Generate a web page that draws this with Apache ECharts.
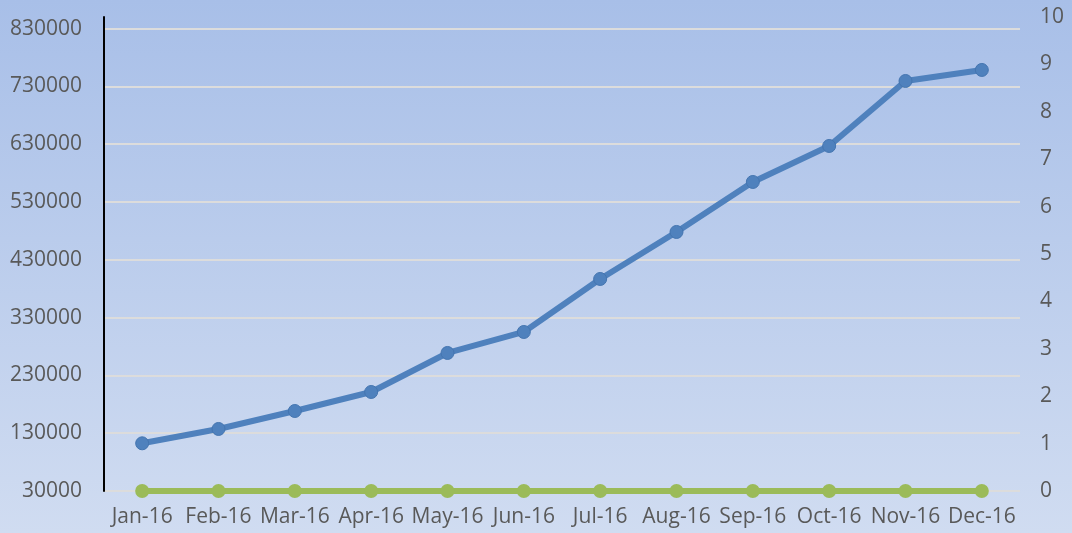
<!DOCTYPE html>
<html>
<head>
<meta charset="utf-8">
<script src="https://cdn.jsdelivr.net/npm/echarts@6/dist/echarts.min.js"></script>
<style>
html,body{margin:0;padding:0;}
#c{width:1072px;height:533px;}
</style>
</head>
<body>
<div id="c"></div>
<script>
const categories = ['Jan-16','Feb-16','Mar-16','Apr-16','May-16','Jun-16','Jul-16','Aug-16','Sep-16','Oct-16','Nov-16','Dec-16'];
const blueValues = [112500,137300,168400,201300,268800,305100,396800,478100,564600,626900,739300,758400];
const greenValues = [0,0,0,0,0,0,0,0,0,0,0,0];

const chart = echarts.init(document.getElementById('c'));
const font = 'Open Sans';
chart.setOption({
  backgroundColor: new echarts.graphic.LinearGradient(0,0,0,1,[
    {offset:0,color:'#a8bfe8'},
    {offset:1,color:'#d0dcf1'}
  ]),
  animation:false,
  grid:{left:104,right:52,top:17,bottom:42},
  xAxis:{
    type:'category',
    data:categories,
    boundaryGap:true,
    axisLine:{show:false},
    axisTick:{show:false},
    axisLabel:{interval:0,color:'#595959',fontFamily:font,fontSize:21,margin:16}
  },
  yAxis:[{
    type:'value',
    min:30000,max:850000,interval:100000,
    axisLine:{show:true,lineStyle:{color:'#000',width:2}},
    axisTick:{show:false},
    axisLabel:{showMaxLabel:false,color:'#595959',fontFamily:font,fontSize:21,margin:22,formatter:function(v){return String(v);}},
    splitLine:{show:true,showMaxLine:false,lineStyle:{color:'#dcdcdc',width:2}}
  },{
    type:'value',
    min:0,max:10,interval:1,
    position:'right',
    axisLine:{show:false},
    axisTick:{show:false},
    splitLine:{show:false},
    axisLabel:{color:'#595959',fontFamily:font,fontSize:21,margin:20}
  }],
  series:[{
    type:'line',
    yAxisIndex:0,
    data:blueValues,
    symbol:'circle',
    symbolSize:13,
    lineStyle:{color:'#4f81bd',width:6},
    itemStyle:{color:'#4f81bd',borderColor:'#4475b0',borderWidth:1}
  },{
    type:'line',
    yAxisIndex:1,
    data:greenValues,
    symbol:'circle',
    symbolSize:14,
    lineStyle:{color:'#9bbb59',width:6},
    itemStyle:{color:'#9bbb59'}
  }]
});
</script>
</body>
</html>
